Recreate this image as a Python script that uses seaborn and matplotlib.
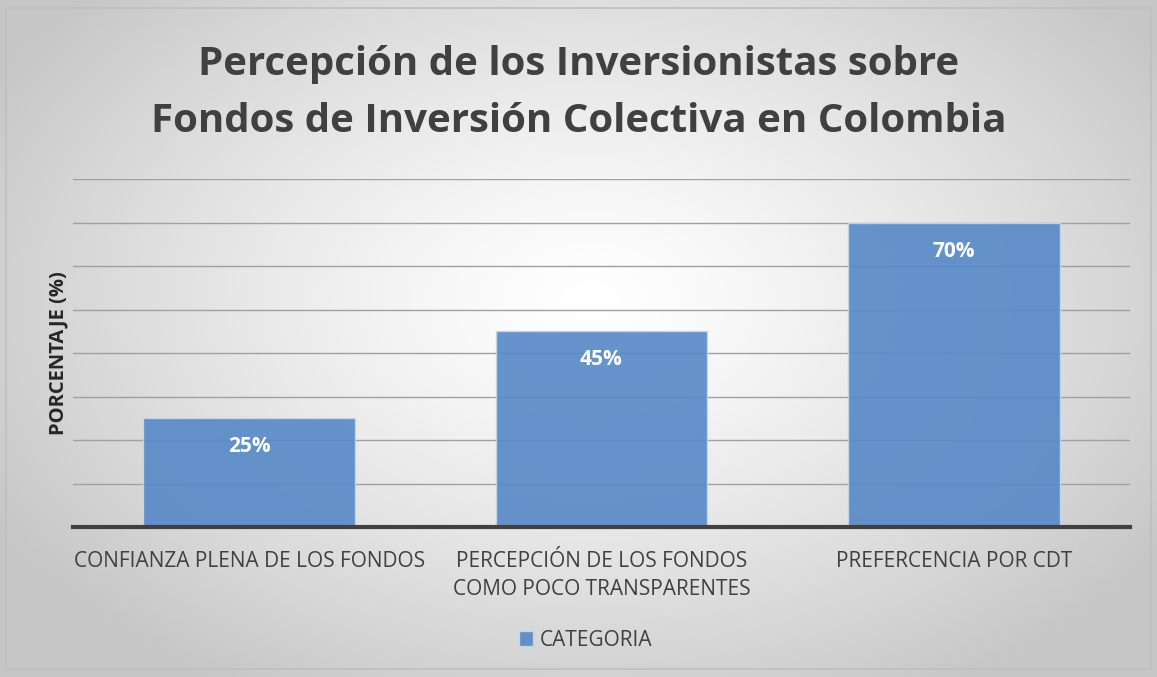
import numpy as np
import pandas as pd
import matplotlib
matplotlib.use("Agg")
import matplotlib.pyplot as plt
import seaborn as sns

categorias = ["CONFIANZA PLENA DE LOS FONDOS",
              "PERCEPCIÓN DE LOS FONDOS\nCOMO POCO TRANSPARENTES",
              "PREFERCENCIA POR CDT"]
porcentajes = [25, 45, 70]
serie = "CATEGORIA"

df = pd.DataFrame({"categoria": categorias, "valor": porcentajes, "serie": serie})

sns.set_style("white")
plt.rcParams["font.family"] = ["Open Sans", "DejaVu Sans"]

W, H = 1157, 677
fig = plt.figure(figsize=(W / 100, H / 100), dpi=100)

# fondo con degradado radial
bg = fig.add_axes([0, 0, 1, 1])
yy, xx = np.mgrid[0:H, 0:W]
r = np.sqrt(((xx - 590) / 680) ** 2 + ((yy - 300) / 450) ** 2)
r = np.clip(r, 0, 1)
g = 1.0 - 0.22 * r ** 1.3
img = np.dstack([g, g, g])
bg.imshow(img, extent=[0, W, H, 0], aspect="auto")
bg.add_patch(plt.Rectangle((6, 8), W - 12, H - 16, fill=False, ec="#bfbfbf", lw=1.2))
bg.set_xlim(0, W)
bg.set_ylim(H, 0)
bg.axis("off")

ax = fig.add_axes([73 / W, (H - 527) / H, (1130 - 73) / W, (527 - 179) / H])
ax.patch.set_alpha(0)
sns.barplot(data=df, x="categoria", y="valor", hue="serie", palette=["#5688c6"],
            saturation=1, width=0.6, alpha=0.9, edgecolor="#c9d7ea", linewidth=1.0,
            ax=ax, zorder=3, legend=True)

ax.set_ylim(0, 80)
ax.set_yticks(range(0, 81, 10))
ax.set_yticklabels([])
ax.tick_params(axis="y", length=0)
ax.tick_params(axis="x", length=0, pad=17, labelsize=15, colors="#404040")
ax.grid(axis="y", color="#a0a0a0", lw=1.0, zorder=0)
ax.set_axisbelow(True)
for s in ["top", "right", "left"]:
    ax.spines[s].set_visible(False)
ax.spines["bottom"].set_color("#404040")
ax.spines["bottom"].set_linewidth(3)
ax.spines["bottom"].set_zorder(5)
ax.set_xlabel("")
ax.set_ylabel("PORCENTAJE (%)", fontsize=14.5, fontweight="bold", color="#262626", labelpad=0)
for lbl in ax.get_xticklabels():
    lbl.set_linespacing(1.45)

for p, v in zip(ax.patches, porcentajes):
    ax.text(p.get_x() + p.get_width() / 2, v - 6.6, f"{v}%", ha="center", va="center",
            color="white", fontsize=15, fontweight="bold", zorder=6)

ax.legend(loc="center", bbox_to_anchor=(0.485, (527 - 640) / (527 - 179)),
          frameon=False, fontsize=15, handlelength=0.7, handleheight=0.7,
          handletextpad=0.3, labelcolor="#404040")

fig.text(0.5, 1 - 93 / H, "Percepción de los Inversionistas sobre\nFondos de Inversión Colectiva en Colombia",
         ha="center", va="center", fontsize=29, fontweight="bold", color="#404040",
         linespacing=1.6)

fig.savefig("out.png", dpi=100)
